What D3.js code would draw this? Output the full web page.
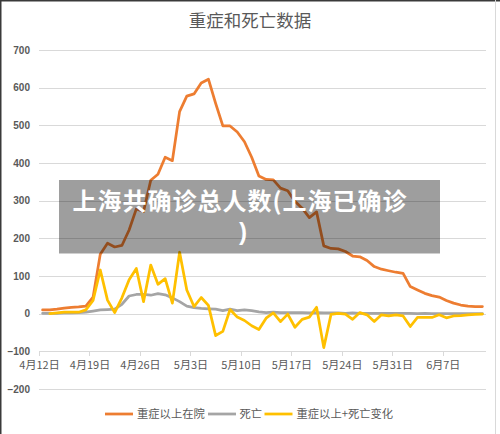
<!DOCTYPE html>
<html>
<head>
<meta charset="utf-8">
<script src="https://cdn.jsdelivr.net/npm/d3@7"></script>
<style>
  html, body { margin: 0; padding: 0; background: #fff; }
  svg { display: block; }
</style>
</head>
<body>
<svg id="chart" width="500" height="434"></svg>
<script>
// ---- data ----
const startDate = "2022-04-12";
const endDate = "2022-06-13"; // exclusive
const seriesNames = ["重症以上在院", "死亡", "重症以上+死亡变化"];
const severe = [10,10,12,15,17,18,20,44,158,187,177,181,222,278,271,354,370,415,406,536,
  577,583,612,622,558,498,498,482,456,415,365,356,355,333,326,298,280,255,270,180,
  173,172,165,153,151,141,125,118,114,110,107,72,63,54,48,44,35,28,23,20,19,19];
const deaths = [1,1,1,2,2,3,4,7,10,11,12,25,47,51,51,49,53,50,42,32,
  20,16,14,13,12,8,12,8,10,8,5,3,4,3,3,3,3,2,3,2,
  2,2,1,2,1,1,1,1,1,1,1,1,0,1,0,0,0,0,0,0,0,0];
const change = [null,0,2,4,4,4,10,35,116,36,3,42,90,120,32,129,78,93,28,163,
  63,19,43,22,-58,-47,11,-9,-18,-32,-42,-12,2,-21,-1,-36,-15,-9,17,-90,
  -2,1,-1,-15,3,-3,-21,-3,-6,-3,-6,-34,-10,-10,-10,-3,-11,-6,-5,-3,-2,-1];
const yTicks = [-200,-100,0,100,200,300,400,500,600,700];
const xTickLabels = ["4月12日","4月19日","4月26日","5月3日","5月10日","5月17日","5月24日","5月31日","6月7日"];
const titleText = "重症和死亡数据";
const overlayLines = ["上海共确诊总人数(上海已确诊", ")"];

// ---- setup ----
const svg = d3.select("#chart");
const font = "'Noto Sans CJK SC', 'Noto Sans', sans-serif";
const textColor = "#595959";
const colors = ["#ED7D31", "#A5A5A5", "#FFC000"];

const dates = d3.utcDay.range(new Date(startDate + "T00:00:00Z"), new Date(endDate + "T00:00:00Z"));
const x = d3.scaleUtc()
  .domain([new Date(startDate + "T00:00:00Z"), new Date(endDate + "T00:00:00Z")])
  .range([39, 486]);
const y = d3.scaleLinear().domain([-200, 700]).range([389.1, 49.8]);

svg.append("rect").attr("width", 500).attr("height", 434).attr("fill", "#fff");

// border
svg.append("line").attr("x1", 0).attr("x2", 500).attr("y1", 0.5).attr("y2", 0.5)
  .attr("stroke", "#3a3a3a").attr("stroke-width", 2);
svg.append("line").attr("x1", 0.5).attr("x2", 0.5).attr("y1", 0).attr("y2", 434)
  .attr("stroke", "#3a3a3a").attr("stroke-width", 2);
svg.append("line").attr("x1", 495.5).attr("x2", 495.5).attr("y1", 0).attr("y2", 434)
  .attr("stroke", "#d9d9d9").attr("stroke-width", 1);

// title
svg.append("text").attr("x", 250).attr("y", 26.5)
  .attr("text-anchor", "middle").attr("font-family", font).attr("font-size", 17.5)
  .attr("fill", textColor).text(titleText);

// gridlines
const yAxis = d3.axisLeft(y).tickValues(yTicks).tickSize(-(486 - 39)).tickFormat(d3.format("d"));
const gy = svg.append("g").attr("transform", "translate(39,0)").call(yAxis);
gy.select(".domain").remove();
gy.selectAll(".tick line").attr("stroke", "#d9d9d9").attr("stroke-width", 1)
  .attr("shape-rendering", "crispEdges");
gy.selectAll(".tick text").attr("x", -9).attr("font-family", "'Liberation Sans', Arial, sans-serif")
  .attr("font-size", 10).attr("font-weight", "bold").attr("fill", textColor);

// x axis at y = -100
const tickDates = xTickLabels.map((_, i) => d3.utcDay.offset(new Date(startDate + "T00:00:00Z"), i * 7));
const xAxis = d3.axisBottom(x).tickValues(tickDates).tickSize(5)
  .tickFormat((d, i) => xTickLabels[i]);
const gx = svg.append("g").attr("transform", `translate(0,${y(-100)})`).call(xAxis);
gx.select(".domain").attr("stroke", "#d9d9d9").attr("d", `M39,0H486`).attr("shape-rendering", "crispEdges");
gx.selectAll(".tick line").attr("stroke", "#d9d9d9").attr("shape-rendering", "crispEdges");
gx.selectAll(".tick text").attr("y", 10).attr("font-family", font)
  .attr("font-size", 11).attr("fill", textColor);

// lines
const mid = d => d3.utcHour.offset(d, 12);
const seriesData = [severe, deaths, change];
seriesData.forEach((vals, s) => {
  const line = d3.line()
    .defined(d => d.v !== null)
    .x(d => x(mid(d.date)))
    .y(d => y(d.v));
  svg.append("path")
    .datum(dates.map((date, i) => ({ date, v: vals[i] })))
    .attr("fill", "none").attr("stroke", colors[s]).attr("stroke-width", 2.75)
    .attr("stroke-linejoin", "round").attr("stroke-linecap", "round")
    .attr("d", line);
});

// legend
const legendItems = [
  { x: 105, tx: 137 },
  { x: 208, tx: 239.5 },
  { x: 264.5, tx: 296.5 }
];
const lg = svg.append("g");
legendItems.forEach((it, i) => {
  lg.append("line").attr("x1", it.x).attr("x2", it.x + 28).attr("y1", 414).attr("y2", 414)
    .attr("stroke", colors[i]).attr("stroke-width", 2.75);
  lg.append("text").attr("x", it.tx).attr("y", 418).attr("font-family", font)
    .attr("font-size", 11.3).attr("fill", textColor).text(seriesNames[i]);
});

// overlay
const ov = svg.append("g");
ov.append("rect").attr("x", 59).attr("y", 180).attr("width", 381).attr("height", 73.5)
  .attr("fill", "rgba(0,0,0,0.38)");
ov.append("text").attr("x", 240).attr("y", 210).attr("text-anchor", "middle")
  .attr("font-family", font).attr("font-weight", "bold").attr("font-size", 24)
  .attr("letter-spacing", 1).attr("fill", "#fff").text(overlayLines[0]);
ov.append("text").attr("x", 243).attr("y", 240).attr("text-anchor", "middle")
  .attr("font-family", "'Liberation Sans', Arial, sans-serif").attr("font-weight", "bold")
  .attr("font-size", 24).attr("fill", "#fff").text(overlayLines[1]);
</script>
</body>
</html>
